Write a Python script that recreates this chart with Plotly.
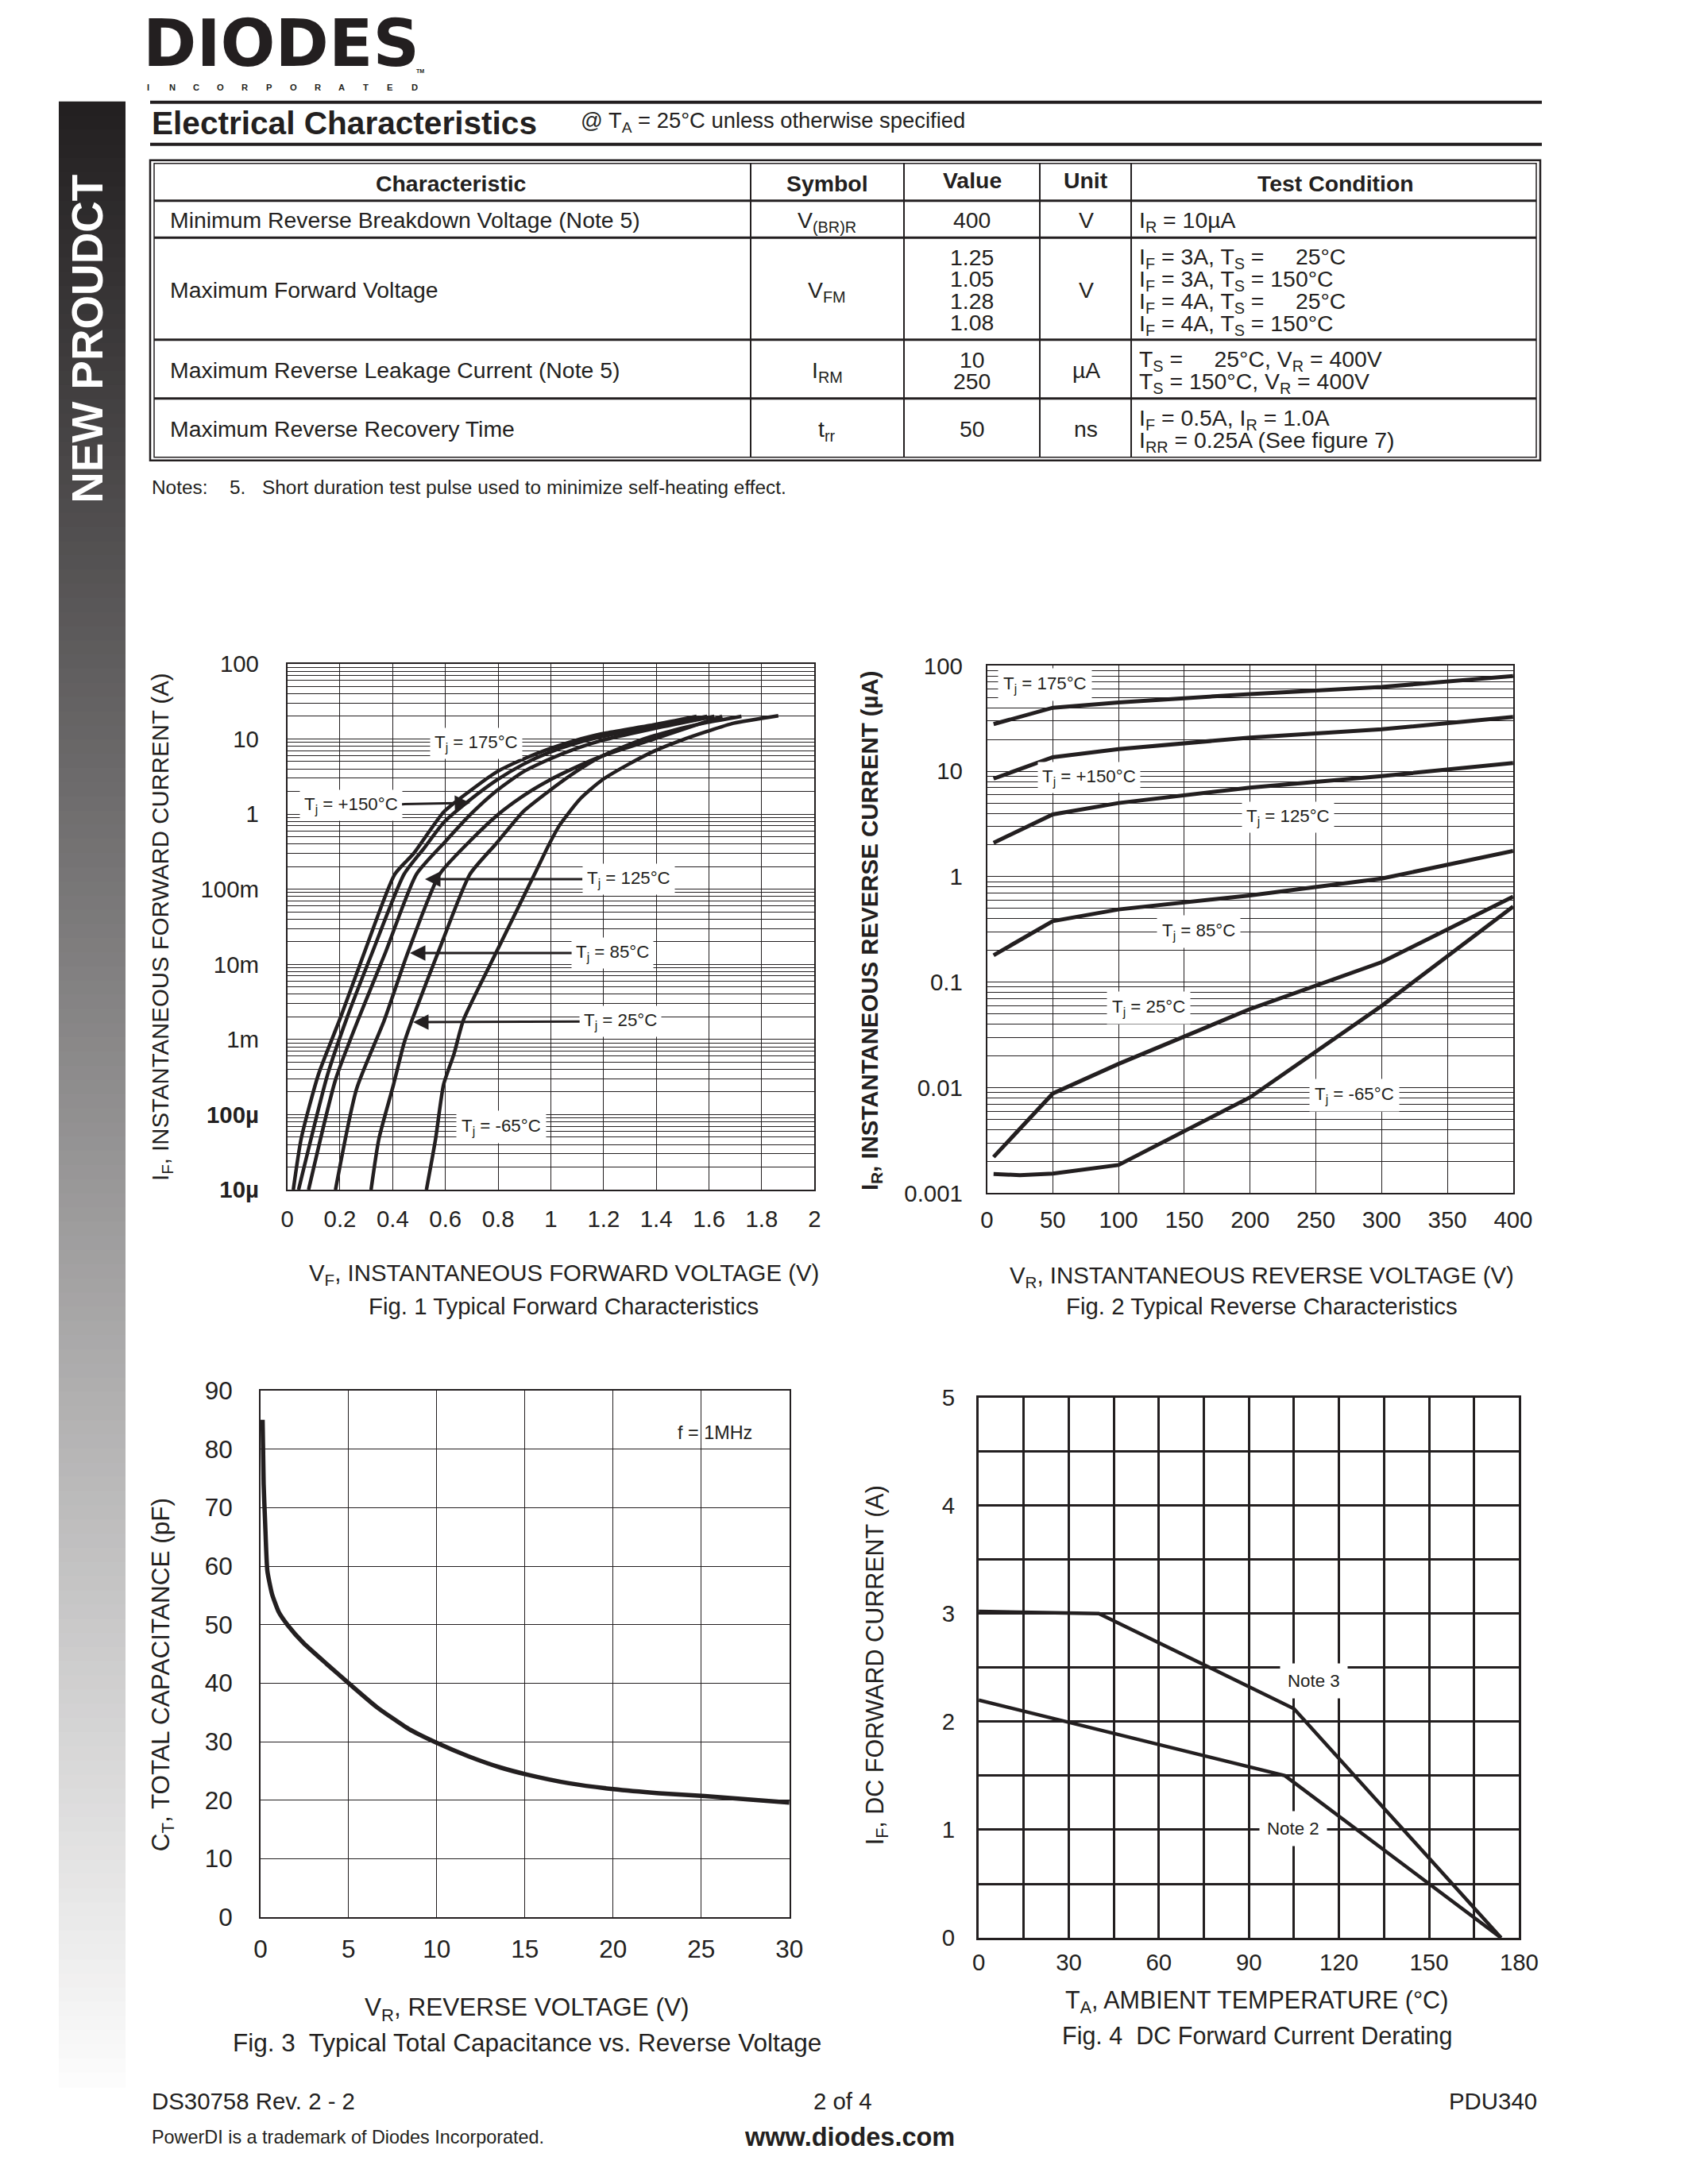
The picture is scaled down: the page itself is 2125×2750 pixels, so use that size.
import plotly.graph_objects as go

W, H = 2125, 2750
INK = "#231f20"
FONT = "Liberation Sans, Arial, Helvetica, sans-serif"
# the page photo shows the figure slightly shrunk; compensate
SX, SY, CX, AY = 0.984, 0.9866, 1062.5, 24.4
FS = 1 / 0.985

# ---------------- Fig. 1  Typical Forward Characteristics (VF in V, IF in A)
vf_175 = [0.023, 0.053, 0.118, 0.203, 0.293, 0.408, 0.48, 0.594, 0.694, 0.794, 0.894, 0.994, 1.093, 1.193, 1.393, 1.553]
if_175 = [1.0e-5, 4.8e-5, 3.4e-4, 2.0e-3, 1.45e-2, 0.158, 0.30, 1.07, 2.04, 3.63, 5.37, 7.41, 9.55, 11.7, 15.5, 20.0]
vf_150 = [0.043, 0.153, 0.228, 0.323, 0.443, 0.52, 0.594, 0.694, 0.794, 0.894, 0.994, 1.093, 1.193, 1.393, 1.593]
if_150 = [1.0e-5, 3.4e-4, 2.0e-3, 1.45e-2, 0.158, 0.355, 0.776, 1.55, 2.82, 4.57, 6.61, 8.71, 10.7, 14.8, 20.0]
vf_125 = [0.081, 0.183, 0.268, 0.373, 0.49, 0.594, 0.694, 0.794, 0.894, 0.994, 1.093, 1.193, 1.393, 1.62]
if_125 = [1.0e-5, 2.9e-4, 1.8e-3, 1.45e-2, 0.158, 0.41, 0.98, 2.04, 3.63, 5.37, 7.41, 9.55, 13.8, 20.0]
vf_85 = [0.183, 0.263, 0.368, 0.458, 0.578, 0.694, 0.794, 0.894, 0.994, 1.093, 1.193, 1.393, 1.65]
if_85 = [1.0e-5, 2.2e-4, 1.8e-3, 1.45e-2, 0.158, 0.44, 0.95, 1.74, 2.82, 4.17, 5.89, 10.0, 20.0]
vf_25 = [0.318, 0.348, 0.403, 0.443, 0.473, 0.583, 0.693, 0.794, 0.894, 0.994, 1.093, 1.193, 1.353, 1.493, 1.593, 1.723]
if_25 = [1.0e-5, 4.8e-5, 2.5e-4, 8.9e-4, 1.8e-3, 1.8e-2, 0.158, 0.41, 1.07, 2.04, 3.63, 5.89, 10.0, 13.8, 16.6, 20.0]
vf_m65 = [0.528, 0.563, 0.593, 0.633, 0.668, 0.793, 0.938, 0.994, 1.033, 1.113, 1.193, 1.293, 1.393, 1.493, 1.593, 1.693, 1.863]
if_m65 = [1.0e-5, 4.8e-5, 2.5e-4, 6.5e-4, 1.8e-3, 1.45e-2, 0.158, 0.40, 0.71, 1.62, 2.82, 4.57, 6.92, 9.55, 12.6, 16.2, 20.4]
f1_xticks = [0, 0.2, 0.4, 0.6, 0.8, 1.0, 1.2, 1.4, 1.6, 1.8, 2.0]
f1_xlabels = ["0", "0.2", "0.4", "0.6", "0.8", "1", "1.2", "1.4", "1.6", "1.8", "2"]
f1_decades = [1e-5, 1e-4, 1e-3, 1e-2, 1e-1, 1, 10, 100]
f1_declabels = ["<b>10\u00b5</b>", "<b>100\u00b5</b>", "1m", "10m", "100m", "1", "10", "100"]

# ---------------- Fig. 2  Typical Reverse Characteristics (VR in V, IR in uA)
vr_pts = [5, 50, 100, 200, 300, 400]
ir_175 = [28, 40, 45, 54, 63, 80]
ir_150 = [8.5, 13.6, 16.2, 20.9, 25, 32.7]
ir_125 = [2.1, 3.9, 5.0, 7.0, 9.0, 12.0]
ir_85 = [0.18, 0.38, 0.49, 0.665, 0.96, 1.76]
ir_25 = [0.0022, 0.0088, 0.0168, 0.0557, 0.155, 0.647]
vr_m65 = [5, 25, 50, 100, 200, 300, 400]
ir_m65 = [0.00152, 0.00148, 0.00153, 0.00185, 0.0081, 0.0596, 0.522]
f2_xticks = [0, 50, 100, 150, 200, 250, 300, 350, 400]
f2_decades = [0.001, 0.01, 0.1, 1, 10, 100]
f2_declabels = ["0.001", "0.01", "0.1", "1", "10", "100"]

# ---------------- Fig. 3  Total Capacitance vs Reverse Voltage
vr_cap = [0.12, 0.18, 0.26, 0.39, 0.65, 1.03, 1.55, 2.46, 3.75, 5.0, 6.6, 8.4, 10.0, 11.8, 13.6, 15.1, 17.5, 20.0, 22.6, 25.2, 27.8, 30.0]
ct_cap = [85, 74, 67.8, 59.2, 55.3, 52.2, 49.9, 46.8, 43.3, 40.0, 35.9, 32.2, 29.8, 27.5, 25.6, 24.4, 22.9, 21.9, 21.2, 20.7, 20.1, 19.6]
f3_xticks = [0, 5, 10, 15, 20, 25, 30]
f3_yticks = [0, 10, 20, 30, 40, 50, 60, 70, 80, 90]

# ---------------- Fig. 4  DC Forward Current Derating
ta_note3 = [0, 40, 105, 174]
if_note3 = [3.02, 3.0, 2.12, 0]
ta_note2 = [0, 102, 174]
if_note2 = [2.2, 1.5, 0]
f4_xticks = [0, 30, 60, 90, 120, 150, 180]
f4_yticks = [0, 1, 2, 3, 4, 5]

# ---------------- Electrical characteristics table
tbl_header = ["Characteristic", "Symbol", "Value", "Unit", "Test Condition"]
tbl_char = ["Minimum Reverse Breakdown Voltage (Note 5)", "Maximum Forward Voltage",
            "Maximum Reverse Leakage Current (Note 5)", "Maximum Reverse Recovery Time"]
tbl_symbol = ["V<sub>(BR)R</sub>", "V<sub>FM</sub>", "I<sub>RM</sub>", "t<sub>rr</sub>"]
tbl_value = [["400"], ["1.25", "1.05", "1.28", "1.08"], ["10", "250"], ["50"]]
tbl_unit = ["V", "V", "\u00b5A", "ns"]
tbl_cond = [["I<sub>R</sub> = 10\u00b5A"],
            ["I<sub>F</sub> = 3A, T<sub>S</sub> = \u2007\u200725\u00b0C",
             "I<sub>F</sub> = 3A, T<sub>S</sub> = 150\u00b0C",
             "I<sub>F</sub> = 4A, T<sub>S</sub> = \u2007\u200725\u00b0C",
             "I<sub>F</sub> = 4A, T<sub>S</sub> = 150\u00b0C"],
            ["T<sub>S</sub> = \u2007\u200725\u00b0C, V<sub>R</sub> = 400V",
             "T<sub>S</sub> = 150\u00b0C, V<sub>R</sub> = 400V"],
            ["I<sub>F</sub> = 0.5A, I<sub>R</sub> = 1.0A",
             "I<sub>RR</sub> = 0.25A (See figure 7)"]]

# ================= helpers (layout in page pixels)
shapes, anns = [], []


def sx(x):
    return (CX + (x - CX) / SX) / W


def sy(y):
    return 1 - ((y - AY) / SY) / H


def P(x, y):
    return sx(x), sy(y)


def fs(size):
    return round(size * FS, 1)


def text(x, y, s, size, xanchor="center", bold=False, color=INK, angle=0, bg=None, pad=1, family=FONT):
    X, Y = P(x, y)
    d = dict(x=X, y=Y, xref="paper", yref="paper", text=f"<b>{s}</b>" if bold else s,
             showarrow=False, xanchor=xanchor, yanchor="middle", textangle=angle,
             font=dict(family=family, size=fs(size), color=color), borderpad=pad)
    if bg:
        d["bgcolor"] = bg
    anns.append(d)


def text_block(x, y, lines, size, line_px, xanchor="left", align="left"):
    """several lines in one text, with a tight line pitch (line_px) like the datasheet"""
    X, Y = P(x, y)
    body = "<br>".join(f"<span style='font-size:{fs(size)}px'>{s}</span>" for s in lines)
    anns.append(dict(x=X, y=Y, xref="paper", yref="paper", text=body, showarrow=False,
                     xanchor=xanchor, yanchor="middle", align=align, borderpad=1,
                     font=dict(family=FONT, size=fs(line_px / 1.3), color=INK)))


def arrow_label(cx, cy, tx, ty, s, size):
    X, Y = P(tx, ty)
    anns.append(dict(x=X, y=Y, xref="paper", yref="paper", text=s, showarrow=True,
                     ax=(cx - tx) / SX, ay=(cy - ty) / SY, axref="pixel", ayref="pixel",
                     arrowhead=2, arrowsize=1.3, arrowwidth=3, arrowcolor=INK,
                     bgcolor="white", borderpad=5,
                     font=dict(family=FONT, size=fs(size), color=INK)))


def line(x0, y0, x1, y1, w, color=INK):
    shapes.append(dict(type="line", xref="paper", yref="paper",
                       x0=sx(x0), y0=sy(y0), x1=sx(x1), y1=sy(y1),
                       line=dict(color=color, width=w)))


def rect(x0, y0, x1, y1, w=0, fill=None, color=INK):
    d = dict(type="rect", xref="paper", yref="paper", x0=sx(x0), y0=sy(y1),
             x1=sx(x1), y1=sy(y0), line=dict(color=color, width=w), layer="below")
    if fill:
        d["fillcolor"] = fill
    shapes.append(d)


# ================= page decoration
n_strips = 140
y_top, y_bot = 126, 2625
c0, c1 = (35, 32, 33), (252, 252, 252)
for i in range(n_strips):
    t = i / (n_strips - 1)
    col = tuple(int(c0[k] + (c1[k] - c0[k]) * t) for k in range(3))
    ya = y_top + (y_bot - y_top) * i / n_strips
    yb = y_top + (y_bot - y_top) * (i + 1) / n_strips + 1
    rect(74, ya, 158, yb, 0, fill="rgb(%d,%d,%d)" % col)
text(110, 425, "NEW PROUDCT", 54, bold=True, color="white", angle=-90)

# logo
text(354, 53, "DIODES", 80, bold=True, family="DejaVu Sans, Liberation Sans, sans-serif")
text(529, 88, "TM", 7, bold=True)
for i, ch in enumerate("INCORPORATED"):
    text(186 + i * 30.5, 108, ch, 11, bold=True)

# header rules & title
line(189, 127, 1941, 127, 4)
line(189, 180, 1941, 180, 4)
text(189, 153, "Electrical Characteristics", 40, xanchor="left", bold=True)
text(729, 152, "@ T<sub>A</sub> = 25\u00b0C unless otherwise specified", 27, xanchor="left")

# table
rect(189, 200, 1939, 578, 2.5)
rect(194, 204, 1934, 574, 1.5)
for yy in [251, 297.5, 426, 500]:
    line(194, yy, 1934, yy, 3)
for xx in [945, 1138, 1309, 1424]:
    line(xx, 204, xx, 574, 2)
col_cx = [567, 1041, 1224, 1367, 1681]
head_y = [229, 229, 225, 225, 229]
for cx, hy, h in zip(col_cx, head_y, tbl_header):
    text(cx, hy, h, 28, bold=True)
row_cy = [275, 363, 464, 538]
val_y = [[275], [322, 349.5, 377, 404], [451, 478], [538]]
cond_cy = [277, 365, 466, 540]
for r in range(4):
    text(212, row_cy[r], tbl_char[r], 28, xanchor="left")
    text(col_cx[1], row_cy[r] + 2, tbl_symbol[r], 28)
    text(col_cx[3], row_cy[r], tbl_unit[r], 28)
    for v, yy in zip(tbl_value[r], val_y[r]):
        text(col_cx[2], yy, v, 28)
    if len(tbl_cond[r]) == 1:
        text(1432, cond_cy[r], tbl_cond[r][0], 28, xanchor="left")
    else:
        text_block(1432, cond_cy[r], tbl_cond[r], 28, 27.6)
text(189, 612, "Notes:", 24, xanchor="left")
text(287, 612, "5.", 24, xanchor="left")
text(328, 612, "Short duration test pulse used to minimize self-heating effect.", 24, xanchor="left")

# footer
text(189, 2643, "DS30758 Rev. 2 - 2", 29, xanchor="left")
text(1061, 2643, "2 of 4", 29)
text(1937, 2643, "PDU340", 29, xanchor="right")
text(189, 2689, "PowerDI is a trademark of Diodes Incorporated.", 23, xanchor="left")
text(1069, 2689, "www.diodes.com", 32, bold=True)

# ================= charts
fig = go.Figure()


def dom(x0, y0, x1, y1):
    return [sx(x0), sx(x1)], [sy(y1), sy(y0)]


def axis(domain, anchor, size, standoff, grid_w=1.2, line_w=1.5, **kw):
    d = dict(domain=domain, anchor=anchor, showgrid=True, gridcolor=INK, gridwidth=grid_w,
             showline=True, mirror=True, linecolor=INK, linewidth=line_w, zeroline=False,
             ticks="", tickfont=dict(family=FONT, size=fs(size), color=INK),
             ticklabelstandoff=standoff, fixedrange=True)
    d.update(kw)
    return d


# Fig 1
x1d, y1d = dom(361.6, 834, 1025.3, 1496)
for vx, iy in [(vf_175, if_175), (vf_150, if_150), (vf_125, if_125), (vf_85, if_85), (vf_25, if_25), (vf_m65, if_m65)]:
    fig.add_trace(go.Scatter(x=vx, y=iy, xaxis="x", yaxis="y", mode="lines",
                             line=dict(color=INK, width=4.5, shape="spline", smoothing=0.6), hoverinfo="skip"))

# Fig 2
x2d, y2d = dom(1242.5, 836.5, 1904.9, 1500.3)
for vx, iy in [(vr_pts, ir_175), (vr_pts, ir_150), (vr_pts, ir_125), (vr_pts, ir_85), (vr_pts, ir_25), (vr_m65, ir_m65)]:
    fig.add_trace(go.Scatter(x=vx, y=iy, xaxis="x2", yaxis="y2", mode="lines",
                             line=dict(color=INK, width=5), hoverinfo="skip"))

# Fig 3
x3d, y3d = dom(327.9, 1748.8, 993.8, 2411.8)
fig.add_trace(go.Scatter(x=vr_cap, y=ct_cap, xaxis="x3", yaxis="y3", mode="lines",
                         line=dict(color=INK, width=5.5, shape="spline", smoothing=0.5), hoverinfo="skip"))

# Fig 4
x4d, y4d = dom(1232.1, 1757.4, 1912.4, 2437.7)
for tx, iy in [(ta_note3, if_note3), (ta_note2, if_note2)]:
    fig.add_trace(go.Scatter(x=tx, y=iy, xaxis="x4", yaxis="y4", mode="lines",
                             line=dict(color=INK, width=4.5), hoverinfo="skip", cliponaxis=False))

log_minor = dict(showgrid=True, dtick="D1", gridcolor=INK, gridwidth=1.2, ticks="")
fig.update_layout(
    xaxis=axis(x1d, "y", 29, 10, range=[0, 2], tickmode="array", tickvals=f1_xticks, ticktext=f1_xlabels),
    yaxis=axis(y1d, "x", 29, 28, type="log", range=[-5, 2], tickmode="array", tickvals=f1_decades,
               ticktext=f1_declabels, minor=log_minor),
    xaxis2=axis(x2d, "y2", 29, 7, range=[0, 400], tickmode="array", tickvals=f2_xticks,
                ticktext=[str(v) for v in f2_xticks]),
    yaxis2=axis(y2d, "x2", 29, 23, type="log", range=[-3, 2], tickmode="array", tickvals=f2_decades,
                ticktext=f2_declabels, minor=log_minor),
    xaxis3=axis(x3d, "y3", 31, 11, range=[0, 30], tickmode="array", tickvals=f3_xticks,
                ticktext=[str(v) for v in f3_xticks]),
    yaxis3=axis(y3d, "x3", 31, 27, range=[0, 90], tickmode="array", tickvals=f3_yticks,
                ticktext=[str(v) for v in f3_yticks]),
    xaxis4=axis(x4d, "y4", 29, 3, grid_w=3, line_w=3, range=[0, 180], tickmode="array",
                tickvals=f4_xticks, ticktext=[str(v) for v in f4_xticks],
                minor=dict(showgrid=True, dtick=15, tick0=0, gridcolor=INK, gridwidth=3, ticks="")),
    yaxis4=axis(y4d, "x4", 29, 21, grid_w=3, line_w=3, range=[0, 5], tickmode="array",
                tickvals=f4_yticks, ticktext=[str(v) for v in f4_yticks],
                minor=dict(showgrid=True, dtick=0.5, tick0=0, gridcolor=INK, gridwidth=3, ticks="")),
)

# Fig 1 labels
LBL = 22
text(599, 934, "T<sub>j</sub> = 175\u00b0C", LBL, bg="white", pad=5)
arrow_label(444, 1012, 592, 1009, "T<sub>j</sub> = +150\u00b0C", LBL)
arrow_label(787, 1105, 535, 1105, "T<sub>j</sub> = 125\u00b0C", LBL)
arrow_label(767, 1198, 516, 1198, "T<sub>j</sub> = 85\u00b0C", LBL)
arrow_label(777, 1284, 520, 1285, "T<sub>j</sub> = 25\u00b0C", LBL)
text(631, 1417, "T<sub>j</sub> = -65\u00b0C", LBL, bg="white", pad=6)
text(710, 1602, "V<sub>F</sub>, INSTANTANEOUS FORWARD VOLTAGE (V)", 29)
text(709, 1642, "Fig. 1 Typical Forward Characteristics", 29)
text(204, 1165, "I<sub>F</sub>, INSTANTANEOUS FORWARD CURRENT (A)", 29, angle=-90)

# Fig 2 labels
text(1315, 860, "T<sub>j</sub> = 175\u00b0C", LBL, bg="white", pad=6)
text(1371, 977, "T<sub>j</sub> = +150\u00b0C", LBL, bg="white", pad=5)
text(1621, 1027, "T<sub>j</sub> = 125\u00b0C", LBL, bg="white", pad=5)
text(1509, 1171, "T<sub>j</sub> = 85\u00b0C", LBL, bg="white", pad=6)
text(1446, 1267, "T<sub>j</sub> = 25\u00b0C", LBL, bg="white", pad=6)
text(1705, 1377, "T<sub>j</sub> = -65\u00b0C", LBL, bg="white", pad=6)
text(1588, 1605, "V<sub>R</sub>, INSTANTANEOUS REVERSE VOLTAGE (V)", 29)
text(1588, 1642, "Fig. 2 Typical Reverse Characteristics", 29)
text(1097, 1170, "I<sub>R</sub>, INSTANTANEOUS REVERSE CURRENT (\u00b5A)", 29, angle=-90, bold=True)

# Fig 3 labels
text(900, 1802, "f = 1MHz", 23)
text(664, 2527, "V<sub>R</sub>, REVERSE VOLTAGE (V)", 31)
text(664, 2570, "Fig. 3  Typical Total Capacitance vs. Reverse Voltage", 31)
text(204, 2106, "C<sub>T</sub>, TOTAL CAPACITANCE (pF)", 31, angle=-90)

# Fig 4 labels
text(1654, 2114, "Note 3", 22, bg="white", pad=9)
text(1628, 2300, "Note 2", 22, bg="white", pad=9)
text(1582, 2518, "T<sub>A</sub>, AMBIENT TEMPERATURE (\u00b0C)", 30)
text(1583, 2561, "Fig. 4  DC Forward Current Derating", 30)
text(1103, 2095, "I<sub>F</sub>, DC FORWARD CURRENT (A)", 30, angle=-90)

fig.update_layout(width=W, height=H, margin=dict(l=0, r=0, t=0, b=0),
                  paper_bgcolor="white", plot_bgcolor="white", showlegend=False,
                  font=dict(family=FONT, color=INK), shapes=shapes, annotations=anns)
fig.write_html("out.html")
